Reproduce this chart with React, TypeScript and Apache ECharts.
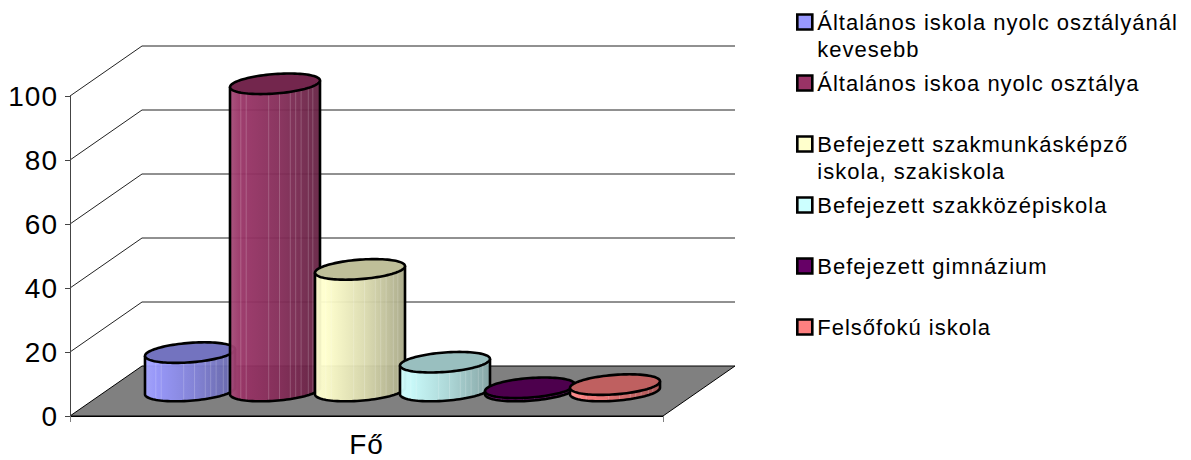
import React, { useEffect, useRef } from "react";
import * as echarts from "echarts";

const categories = ["Fő"];
const seriesNames = [
  "Általános iskola nyolc osztályánál\nkevesebb",
  "Általános iskoa nyolc osztálya",
  "Befejezett szakmunkásképző\niskola, szakiskola",
  "Befejezett szakközépiskola",
  "Befejezett gimnázium",
  "Felsőfokú iskola",
];
const seriesValues = [12, 96, 38, 9, 1, 2];
const seriesColors = ["#9999FF", "#993366", "#FFFFCC", "#CCFFFF", "#660066", "#FF8080"];
const yTicks = [0, 20, 40, 60, 80, 100];

const DEPTH_X = 72;
const DEPTH_Y = 50;
const ELL_H = 9.75;
const ELL_TILT = 3.3;
const FACETS = [0.12, 0.18, 0.43, 0.55, 0.67, 0.73, 0.79, 0.87, 0.92];

function mix(hex: string, k: number, target = 0) {
  const n = parseInt(hex.slice(1), 16);
  const c = [(n >> 16) & 255, (n >> 8) & 255, n & 255].map((v) => Math.round(v * k + target * (1 - k)));
  return `rgb(${c[0]},${c[1]},${c[2]})`;
}

function ell(cx: number, cy: number, w: number, t: number) {
  return [cx + w * Math.cos(t), cy + ELL_H * Math.sin(t) - ELL_TILT * Math.cos(t)];
}

function wallsItem(params: any, api: any) {
  const v = api.value(0);
  const sys = params.coordSys;
  const y = api.coord([0, v])[1];
  const x0 = sys.x;
  const x1 = sys.x + sys.width;
  const children: any[] = [];
  if (v === 0) {
    children.push({
      type: "polygon",
      shape: { points: [[x0, y], [x1, y], [x1 + DEPTH_X, y - DEPTH_Y], [x0 + DEPTH_X, y - DEPTH_Y]] },
      style: { fill: "#808080", stroke: "#000", lineWidth: 1 },
    });
  } else {
    children.push({
      type: "polyline",
      shape: { points: [[x0, y], [x0 + DEPTH_X, y - DEPTH_Y], [x1 + DEPTH_X, y - DEPTH_Y]] },
      style: { fill: "none", stroke: "#222", lineWidth: 1 },
    });
  }
  return { type: "group", children };
}

function cylinderItem(index: number, color: string) {
  return (params: any, api: any) => {
    const v = api.value(1);
    const [midX, baseY0] = api.coord([0, 0]);
    const topY0 = api.coord([0, v])[1];
    const band = api.size([1, 0])[0];
    const step = band * (85 / 593);
    const w = step * (45 / 85);
    const cx = midX + DEPTH_X / 2 + (index - 2.5) * step;
    const baseY = baseY0 - DEPTH_Y / 2;
    const topY = topY0 - DEPTH_Y / 2;

    const N = 48;
    const arc: number[][] = [];
    for (let i = 0; i <= N; i++) arc.push(ell(cx, baseY, w, Math.PI - (Math.PI * i) / N));
    const side = [ell(cx, topY, w, Math.PI), ...arc, ell(cx, topY, w, 0)];
    const top: number[][] = [];
    for (let i = 0; i < N * 2; i++) top.push(ell(cx, topY, w, (Math.PI * i) / N));

    const lines = FACETS.map((f) => {
      const c = 2 * f - 1;
      const s = Math.sqrt(1 - c * c);
      const x = cx + w * c;
      const dy = ELL_H * s - ELL_TILT * c;
      return {
        type: "line",
        shape: { x1: x, y1: topY + dy, x2: x, y2: baseY + dy },
        style: { stroke: "rgba(255,255,255,0.2)", lineWidth: 1 },
      };
    });

    return {
      type: "group",
      children: [
        {
          type: "polygon",
          shape: { points: side },
          style: {
            fill: new echarts.graphic.LinearGradient(0, 0, 1, 0, [
              { offset: 0, color: mix(color, 0.88, 255) },
              { offset: 0.12, color: mix(color, 1) },
              { offset: 0.55, color: mix(color, 0.86) },
              { offset: 1, color: mix(color, 0.66) },
            ]),
            fillOpacity: 0.95,
            stroke: "none",
          },
        },
        ...lines,
        {
          type: "polyline",
          shape: { points: side },
          style: { fill: "none", stroke: "#000", lineWidth: 2.6 },
        },
        {
          type: "polygon",
          shape: { points: top },
          style: { fill: mix(color, 0.75), stroke: "#000", lineWidth: 2.6 },
        },
      ],
    };
  };
}

export default function App() {
  const ref = useRef<HTMLDivElement>(null);
  useEffect(() => {
    const chart = echarts.init(ref.current!, undefined, { renderer: "svg" });
    const font = "'Liberation Sans', Arial, sans-serif";
    chart.setOption({
      animation: false,
      backgroundColor: "#fff",
      textStyle: { fontFamily: font },
      grid: { left: 70, right: 528, top: 96, bottom: 44, containLabel: false },
      xAxis: {
        type: "category",
        data: categories,
        axisLine: { lineStyle: { color: "#000", width: 1 } },
        axisTick: { show: true, length: 6, lineStyle: { color: "#808080" } },
        axisLabel: { color: "#000", fontSize: 28, margin: 14, fontFamily: font },
        z: 5,
      },
      yAxis: {
        type: "value",
        min: 0,
        max: 100,
        interval: 20,
        splitLine: { show: false },
        axisLine: { show: true, lineStyle: { color: "#444", width: 1 } },
        axisTick: { show: true, length: 5, lineStyle: { color: "#444" } },
        axisLabel: { color: "#000", fontSize: 28, margin: 12, fontFamily: font },
        z: 5,
      },
      legend: seriesNames.map((name, i) => {
        const multi = name.includes("\n");
        const centre = 22 + 61 * i;
        return {
          show: true,
          orient: "vertical",
          left: 796,
          top: centre - (multi ? 40.5 : 13.5),
          padding: 0,
          itemWidth: 15,
          itemHeight: 15,
          selectedMode: false,
          formatter: (n: string) => (multi ? "\n" + n : n),
          textStyle: {
            color: "#000",
            fontSize: 22,
            fontFamily: font,
            lineHeight: 27,
          },
          data: [
            {
              name,
              icon: "rect",
              itemStyle: { color: seriesColors[i], borderColor: "#000", borderWidth: 2.6 },
            },
          ],
        };
      }),
      series: [
        {
          type: "custom",
          name: "walls",
          silent: true,
          z: 1,
          clip: false,
          data: yTicks.map((t) => [t]),
          encode: { y: 0 },
          renderItem: wallsItem,
        },
        ...seriesNames.map((name, i) => ({
          type: "custom",
          name,
          silent: true,
          z: 2 + i,
          clip: false,
          itemStyle: { color: seriesColors[i] },
          data: [[categories[0], seriesValues[i]]],
          encode: { x: 0, y: 1 },
          renderItem: cylinderItem(i, seriesColors[i]),
        })),
      ],
    });
    return () => chart.dispose();
  }, []);
  return (
    <div
      ref={ref}
      style={{ position: "absolute", left: 0, top: 0, width: 1191, height: 460, letterSpacing: "1px" }}
    />
  );
}
